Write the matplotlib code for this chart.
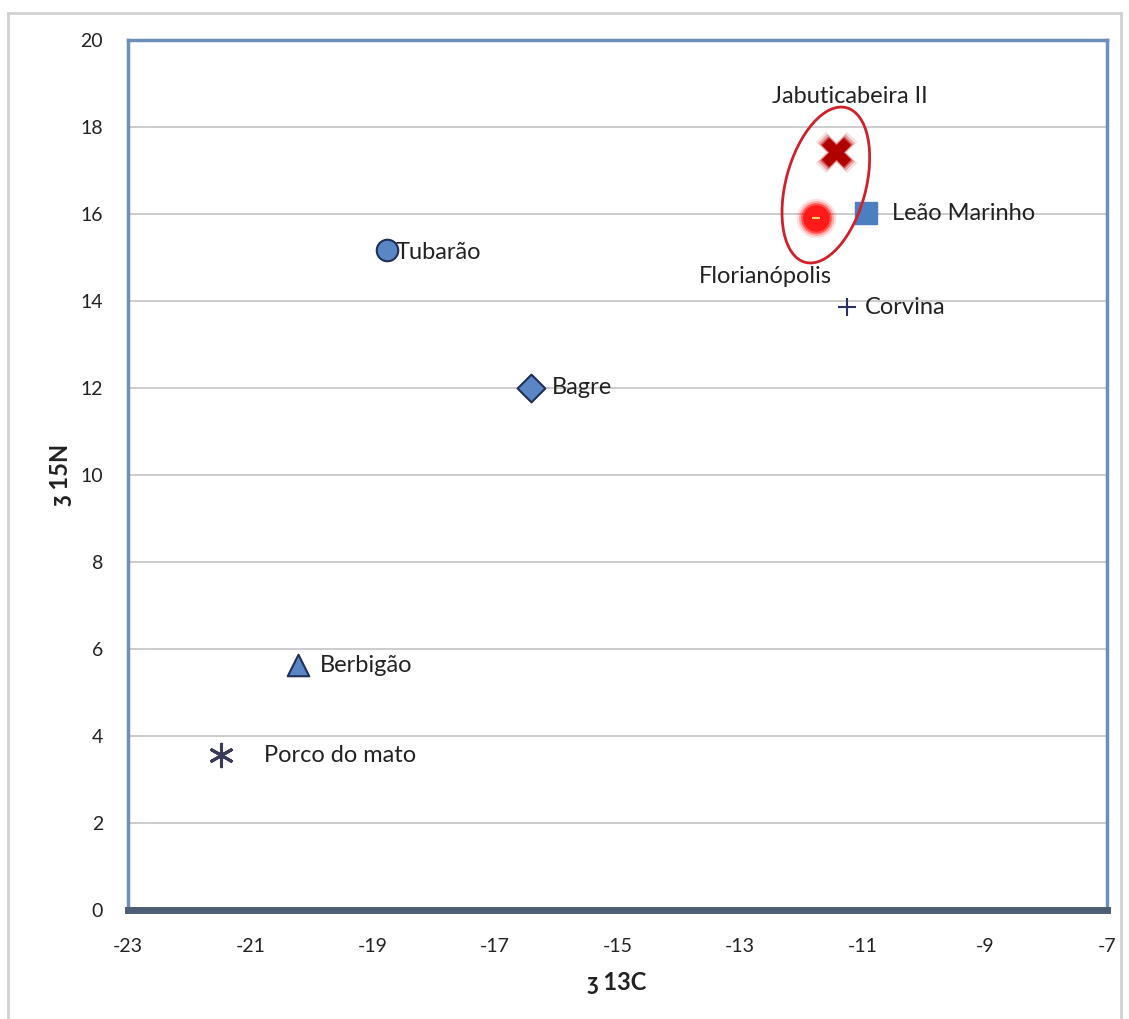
import matplotlib.pyplot as plt
import matplotlib.transforms as transforms
from matplotlib.patches import Ellipse
from matplotlib.lines import Line2D

plt.rcParams['font.family'] = ['Lato', 'DejaVu Sans']
plt.rcParams['axes.unicode_minus'] = False

# data
names = ["Tubarão", "Bagre", "Berbigão", "Porco do mato", "Corvina",
         "Leão Marinho", "Jabuticabeira II", "Florianópolis"]
d13c = [-18.77, -16.42, -20.22, -21.48, -11.25, -10.94, -11.43, -11.76]
d15n = [15.17, 12.0, 5.63, 3.56, 13.86, 16.02, 17.43, 15.9]
x_ticks = [-23, -21, -19, -17, -15, -13, -11, -9, -7]
y_ticks = [0, 2, 4, 6, 8, 10, 12, 14, 16, 18, 20]

fig = plt.figure(figsize=(11.29, 10.19), dpi=100)
ax = fig.add_axes([0.1134, 0.107, 0.8671, 0.8538])

# outer light border of the chart area
fig.add_artist(Line2D([0.007, 0.993], [0.987, 0.987], color="#d0d0d0", lw=2, transform=fig.transFigure))
fig.add_artist(Line2D([0.007, 0.007], [0.0, 0.987], color="#d0d0d0", lw=2, transform=fig.transFigure))
fig.add_artist(Line2D([0.993, 0.993], [0.0, 0.987], color="#d0d0d0", lw=2, transform=fig.transFigure))

ax.set_xlim(-23, -7)
ax.set_ylim(0, 20)
ax.set_xticks(x_ticks)
ax.set_yticks(y_ticks)
ax.yaxis.grid(True, color="#c4c4c4", lw=1.2)
ax.set_axisbelow(True)
ax.tick_params(axis="both", length=0, labelsize=14, colors="#222222")
ax.tick_params(axis="x", pad=20)
ax.tick_params(axis="y", pad=18)
for s in ["left", "top", "right"]:
    ax.spines[s].set_color("#6f8fbb")
    ax.spines[s].set_linewidth(2.5)
ax.spines["bottom"].set_color("#4d5d73")
ax.spines["bottom"].set_linewidth(5)

mk_face = "#5b86c6"
mk_edge = "#1f2f55"

# Tubarão
ax.scatter(d13c[0], d15n[0], s=240, marker="o", c=mk_face, edgecolors=mk_edge, linewidths=1.5, zorder=3)
# Bagre
ax.scatter(d13c[1], d15n[1], s=200, marker="D", c=mk_face, edgecolors=mk_edge, linewidths=1.5, zorder=3)
# Berbigão
ax.scatter(d13c[2], d15n[2], s=240, marker="^", c=mk_face, edgecolors=mk_edge, linewidths=1.5, zorder=3)
# Porco do mato
ax.scatter(d13c[3], d15n[3], s=260, marker=(6, 2, 0), c="#3a3a5a", linewidths=2.2, zorder=3)
# Corvina
ax.scatter(d13c[4], d15n[4], s=180, marker="+", c="#2a3060", linewidths=1.5, zorder=3)
# Leão Marinho
ax.scatter(d13c[5], d15n[5], s=270, marker="s", c="#4a7fc0", edgecolors="#4a7fc0", linewidths=1, zorder=3)

# blurred red markers
for sz, a in [(900, 0.12), (700, 0.25), (540, 0.5)]:
    ax.scatter(d13c[6], d15n[6], s=sz, marker="X", c="#c00000", alpha=a, linewidths=0, zorder=3)
    ax.scatter(d13c[7], d15n[7], s=sz * 0.9, marker="o", c="#ff0000", alpha=a, linewidths=0, zorder=3)
ax.scatter(d13c[6], d15n[6], s=440, marker="X", c="#b00000", linewidths=0, zorder=4)
ax.scatter(d13c[7], d15n[7], s=360, marker="o", c="#ff1a1a", linewidths=0, zorder=4)
ax.scatter(d13c[7], d15n[7], s=40, marker="_", c="#ffcc66", linewidths=1.5, zorder=5)

# ellipse round the two sites, sized in inches
cx = (d13c[6] + d13c[7]) / 2
cy = (d15n[6] + d15n[7]) / 2
tr = fig.dpi_scale_trans + transforms.ScaledTranslation(cx, cy, ax.transData)
ax.add_patch(Ellipse((0, 0), 0.8, 1.6, angle=-15, fill=False, ec="#d0202a", lw=2, transform=tr, zorder=5))

# labels
lbl = dict(fontsize=17, color="#222222", va="center", zorder=6)
ax.text(d13c[0] + 0.15, d15n[0] - 0.05, names[0], ha="left", **lbl)
ax.text(d13c[1] + 0.35, d15n[1], names[1], ha="left", **lbl)
ax.text(d13c[2] + 0.35, d15n[2], names[2], ha="left", **lbl)
ax.text(d13c[3] + 0.7, d15n[3], names[3], ha="left", **lbl)
ax.text(d13c[4] + 0.3, d15n[4], names[4], ha="left", **lbl)
ax.text(d13c[5] + 0.42, d15n[5], names[5], ha="left", **lbl)
ax.text(d13c[6] + 0.23, d15n[6] + 1.26, names[6], ha="center", **lbl)
ax.text(d13c[7] - 0.83, d15n[7] - 1.33, names[7], ha="center", **lbl)

ax.set_xlabel("ȝ 13C", fontsize=17, fontweight="bold", labelpad=12, color="#222222")
ax.set_ylabel("ȝ 15N", fontsize=17, fontweight="bold", labelpad=6, color="#222222")

fig.savefig("out.png", dpi=100)
